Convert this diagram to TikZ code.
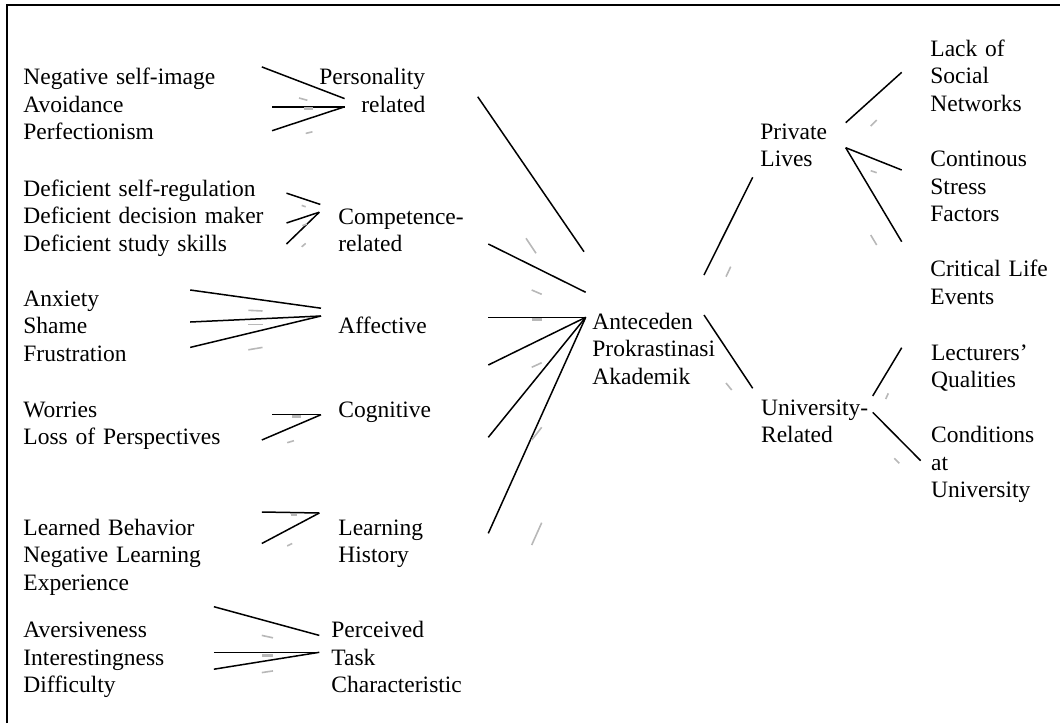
\documentclass[tikz,border=0pt]{standalone}
\usepackage{fontspec}
\setmainfont{Liberation Serif}
\begin{document}
\begin{tikzpicture}[x=0.5pt,y=-0.5pt,
  lbl/.style={anchor=base west, inner sep=0pt, text width=8cm, align=left,
              font=\fontsize{11.75}{13.75}\selectfont},
  con/.style={line width=0.75pt, black},
  shd/.style={line width=0.8pt, black!28},
  frame/.style={line width=1pt, black}]
\useasboundingbox (0,0) rectangle (1060,723);
% frame (only top and left edges visible)
\coordinate (fbl) at (6.8,723);
\coordinate (ftl) at (6.8,5);
\coordinate (ftr) at (1060,5);
\draw[frame] (fbl) -- (ftl) -- (ftr);

% ---------- texts ----------
\node[lbl] (t1) at (23,84.5) {Negative self-image\\Avoidance\\Perfectionism};
\node[lbl] (t2) at (23,196) {Deficient self-regulation\\Deficient decision maker\\Deficient study skills};
\node[lbl] (t3) at (23,306) {Anxiety\\Shame\\Frustration};
\node[lbl] (t4) at (23,417.4) {Worries\\Loss of Perspectives};
\node[lbl] (t5) at (23,535) {Learned Behavior\\Negative Learning\\Experience};
\node[lbl] (t6) at (23,637.8) {Aversiveness\\Interestingness\\Difficulty};

\node[lbl] (m1) at (319,84.5) {Personality\\\hspace*{21pt}related};
\node[lbl] (m2) at (338,224) {Competence-\\related};
\node[lbl] (m3) at (338,333) {Affective};
\node[lbl] (m4) at (338,417.4) {Cognitive};
\node[lbl] (m5) at (338,535) {Learning\\History};
\node[lbl] (m6) at (331,637.8) {Perceived\\Task\\Characteristic};

\node[lbl] (c) at (592,329) {Anteceden\\Prokrastinasi\\Akademik};

\node[lbl] (pl) at (760,139.3) {Private\\Lives};
\node[lbl] (ur) at (760.7,415) {University-\\Related};

\node[lbl] (r1) at (930,56) {Lack of\\Social\\Networks};
\node[lbl] (r2) at (930,166.7) {Continous\\Stress\\Factors};
\node[lbl] (r3) at (930,276.7) {Critical Life\\Events};
\node[lbl] (r4) at (930.7,360) {Lecturers’\\Qualities};
\node[lbl] (r5) at (930.7,442.7) {Conditions\\at\\University};

% ---------- connector end points ----------
% group 1
\coordinate (a1) at (261.8,66.9);  \coordinate (a1e) at (344.6,98.6);
\coordinate (a2) at (272,106.8);   \coordinate (a2e) at (344.6,106.8);
\coordinate (a3) at (272,130.7);
% group 2
\coordinate (b1) at (286.5,193.2); \coordinate (b1e) at (320.3,204.4);
\coordinate (b2) at (286.5,223);   \coordinate (b2e) at (319.3,212.2);
\coordinate (b3) at (286.5,244);
% group 3
\coordinate (d1) at (190.2,290);   \coordinate (d1e) at (321,308.2);
\coordinate (d2) at (190.2,322);   \coordinate (d2e) at (321,316);
\coordinate (d3) at (190.2,347.4);
% group 4
\coordinate (e1) at (272,414.7);   \coordinate (e1e) at (321,414.7);
\coordinate (e2) at (261.8,440);
% group 5
\coordinate (f1) at (261.8,512);   \coordinate (f1e) at (319.3,513);
\coordinate (f2) at (261.8,543.5);
% group 6
\coordinate (g1) at (213.9,606.7); \coordinate (g1e) at (319.3,635.4);
\coordinate (g2) at (213.9,652.3); \coordinate (g2e) at (319.3,652.3);
\coordinate (g3) at (213.9,669.2);
% centre
\coordinate (h1) at (477.7,96.7);  \coordinate (h1e) at (584,251.7);
\coordinate (h2) at (488.3,244);   \coordinate (h2e) at (585.7,292.3);
\coordinate (hub) at (585.7,317.3);
\coordinate (h3) at (488.3,317.3);
\coordinate (h4) at (488.3,365);
\coordinate (h5) at (488.3,437.3);
\coordinate (h6) at (488.3,533.3);
% right
\coordinate (k1) at (704,275);     \coordinate (k1e) at (752.7,177.3);
\coordinate (k2) at (704,315);     \coordinate (k2e) at (752.7,388.3);
\coordinate (p1) at (845.7,122.7); \coordinate (p1e) at (901.7,72.3);
\coordinate (p2) at (845.7,147.7); \coordinate (p2e) at (901.7,170);
\coordinate (p3e) at (901.7,241.7);
\coordinate (u1) at (872.7,396);   \coordinate (u1e) at (901.7,347.7);
\coordinate (u2) at (872.7,412.3); \coordinate (u2e) at (920.7,460.7);

% ---------- connectors ----------
\draw[con] (a1) -- (a1e); \draw[con] (a2) -- (a2e); \draw[con] (a3) -- (a2e);
\draw[con] (b1) -- (b1e); \draw[con] (b2) -- (b2e); \draw[con] (b3) -- (b2e);
\draw[con] (d1) -- (d1e); \draw[con] (d2) -- (d2e); \draw[con] (d3) -- (d2e);
\draw[con] (e1) -- (e1e); \draw[con] (e2) -- (e1e);
\draw[con] (f1) -- (f1e); \draw[con] (f2) -- (f1e);
\draw[con] (g1) -- (g1e); \draw[con] (g2) -- (g2e); \draw[con] (g3) -- (g2e);
\draw[con] (h1) -- (h1e); \draw[con] (h2) -- (h2e);
\draw[con] (h3) -- (hub); \draw[con] (h4) -- (hub);
\draw[con] (h5) -- (hub); \draw[con] (h6) -- (hub);
\draw[con] (k1) -- (k1e); \draw[con] (k2) -- (k2e);
\draw[con] (p1) -- (p1e); \draw[con] (p2) -- (p2e); \draw[con] (p2) -- (p3e);
\draw[con] (u1) -- (u1e); \draw[con] (u2) -- (u2e);

% ---------- faint shadow marks ----------
\draw[shd] (299,98) -- (307.4,100.3);
\draw[shd, line width=1.5pt] (304,108) -- (312.5,108);
\draw[shd] (305.7,133.4) -- (312.5,131.8);
\draw[shd] (301.7,205.4) -- (305.7,206.8);
\draw[shd] (302.4,225.7) -- (306.8,224);
\draw[shd] (301.7,246.8) -- (305.7,243.4);
\draw[shd] (248.3,310.3) -- (262.5,311);
\draw[shd] (248.3,324.5) -- (262.5,324.5);
\draw[shd] (248.3,349.8) -- (262.5,347.4);
\draw[shd, line width=1.5pt] (292.2,416.4) -- (300.7,416.4);
\draw[shd] (287.2,442.7) -- (293.9,440.7);
\draw[shd] (290.5,514.8) -- (297.3,514.8);
\draw[shd] (287.2,545.9) -- (292.2,543.5);
\draw[shd] (261.8,635.4) -- (273,637.8);
\draw[shd, line width=1.5pt] (261.8,655) -- (273,655);
\draw[shd] (261.8,672.6) -- (273,670.9);
\draw[shd] (526,238.3) -- (536,253.3);
\draw[shd] (531.7,290) -- (541.7,294.3);
\draw[shd, line width=1.5pt] (531.7,319.3) -- (541.7,319.3);
\draw[shd] (531.7,367.3) -- (541.7,362.7);
\draw[shd] (531.7,440) -- (541.7,427.3);
\draw[shd] (531.7,545) -- (541.7,522.7);
\draw[shd] (730.7,266.7) -- (726,276.7);
\draw[shd] (726,383) -- (731.7,390);
\draw[shd] (876.7,120) -- (870.7,126);
\draw[shd] (870.7,170.7) -- (876.7,172.7);
\draw[shd] (870.7,235) -- (876.7,245);
\draw[shd] (888.3,393.3) -- (885.7,399);
\draw[shd] (894.3,458.3) -- (899.3,463.3);
\end{tikzpicture}
\end{document}
